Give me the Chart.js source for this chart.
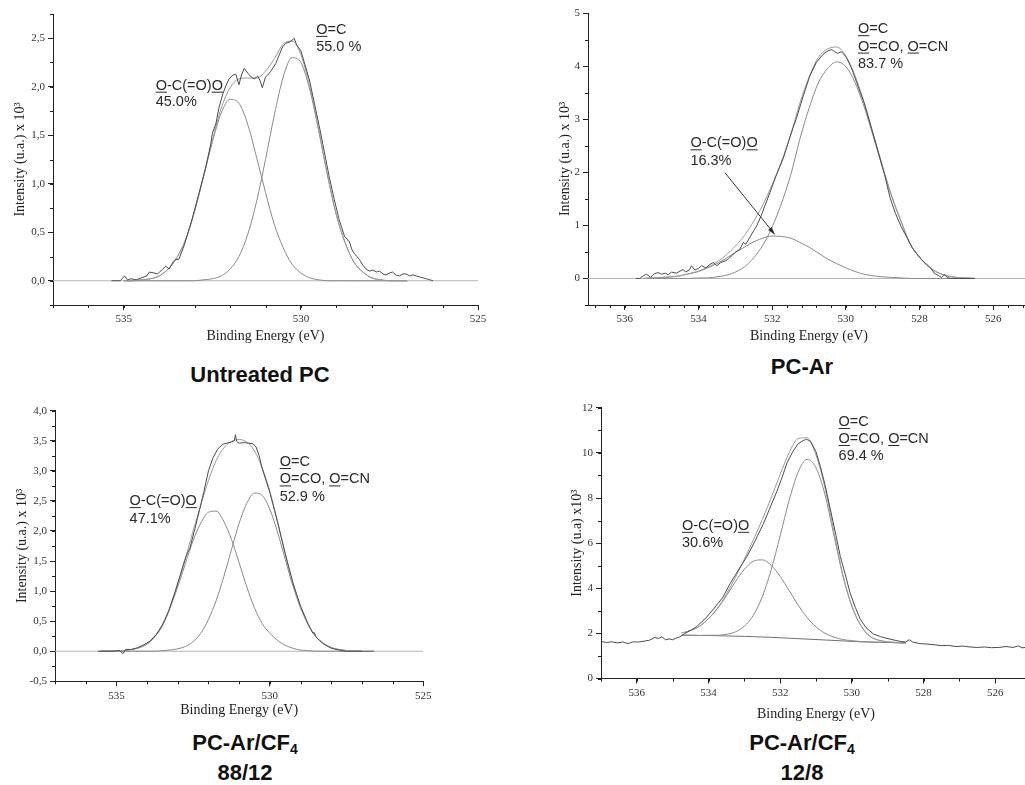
<!DOCTYPE html>
<html>
<head>
<meta charset="utf-8">
<script src="https://cdn.jsdelivr.net/npm/chart.js@4.4.1/dist/chart.umd.min.js"></script>
<style>
  html, body { margin: 0; padding: 0; overflow: hidden; background: #fff; }
  body { width: 1025px; height: 785px; position: relative; }
  canvas.panel { position: absolute; }
  .caption {
    position: absolute; width: 300px; text-align: center;
    font-family: "Liberation Sans", Arial, sans-serif; font-weight: bold;
    font-size: 22px; line-height: 30px; color: #111;
  }
  .caption sub { font-size: 14px; line-height: 0; vertical-align: -4px; }
</style>
</head>
<body>
<canvas id="p1" class="panel" width="500" height="345" style="left:0;top:0"></canvas>
<canvas id="p2" class="panel" width="545" height="345" style="left:500px;top:0"></canvas>
<canvas id="p3" class="panel" width="450" height="324" style="left:0;top:395px"></canvas>
<canvas id="p4" class="panel" width="545" height="328" style="left:500px;top:395px"></canvas>

<div class="caption" style="left:110px;top:360px">Untreated PC</div>
<div class="caption" style="left:652px;top:352px">PC-Ar</div>
<div class="caption" style="left:95px;top:728px">PC-Ar/CF<sub>4</sub><br>88/12</div>
<div class="caption" style="left:652px;top:728px">PC-Ar/CF<sub>4</sub><br>12/8</div>

<script>
// ---------- data (binding energy in eV, intensity x 10^3) ----------

// Untreated PC
const p1Energy = [535.0, 534.75, 534.5, 534.25, 534.0, 533.75, 533.5, 533.25, 533.0, 532.75, 532.5, 532.25, 532.0, 531.75, 531.5, 531.25, 531.0, 530.75, 530.5, 530.25, 530.0, 529.75, 529.5, 529.25, 529.0, 528.75, 528.5, 528.25, 528.0, 527.75, 527.5, 527.25, 527.0];
const p1PeakCarbonate = [0, 0, 0.01, 0.02, 0.05, 0.12, 0.24, 0.43, 0.72, 1.07, 1.43, 1.73, 1.87, 1.83, 1.61, 1.27, 0.91, 0.58, 0.34, 0.17, 0.08, 0.03, 0.01, 0, 0, 0, 0, 0, 0, 0, 0, 0, 0];
const p1PeakCarbonyl = [0, 0, 0, 0, 0, 0, 0, 0, 0, 0.01, 0.02, 0.05, 0.12, 0.25, 0.48, 0.82, 1.25, 1.71, 2.10, 2.30, 2.25, 1.97, 1.55, 1.09, 0.68, 0.39, 0.19, 0.09, 0.03, 0.01, 0, 0, 0];
const p1Fit = [0, 0, 0.01, 0.02, 0.05, 0.12, 0.24, 0.43, 0.72, 1.08, 1.45, 1.78, 1.99, 2.08, 2.09, 2.09, 2.16, 2.29, 2.44, 2.47, 2.33, 2.00, 1.56, 1.09, 0.68, 0.39, 0.19, 0.09, 0.03, 0.01, 0, 0, 0];
const p1Raw = [[535.35, 0], [535.1, 0], [534.98, 0.05], [534.9, 0.01], [534.8, 0.02], [534.65, 0.01], [534.5, 0.03], [534.35, 0.05], [534.28, 0.09], [534.15, 0.08], [534.05, 0.07], [533.9, 0.12], [533.82, 0.15], [533.72, 0.12], [533.6, 0.2], [533.54, 0.22], [533.45, 0.22], [533.3, 0.36], [533.1, 0.6], [532.88, 0.9], [532.7, 1.15], [532.55, 1.4], [532.5, 1.52], [532.4, 1.62], [532.31, 1.79], [532.2, 1.93], [532.12, 2.01], [532.03, 2.08], [531.92, 2.12], [531.84, 2.13], [531.75, 2.02], [531.68, 2.12], [531.6, 2.19], [531.5, 2.14], [531.4, 2.1], [531.32, 2.08], [531.22, 2.11], [531.15, 2.06], [531.09, 1.99], [531.0, 2.1], [530.94, 2.12], [530.85, 2.16], [530.71, 2.24], [530.6, 2.34], [530.52, 2.41], [530.42, 2.45], [530.33, 2.46], [530.25, 2.48], [530.19, 2.5], [530.12, 2.43], [530.0, 2.37], [529.88, 2.22], [529.76, 2.07], [529.62, 1.83], [529.48, 1.59], [529.34, 1.33], [529.2, 1.07], [529.06, 0.84], [528.92, 0.63], [528.85, 0.55], [528.77, 0.46], [528.7, 0.43], [528.63, 0.4], [528.56, 0.32], [528.49, 0.28], [528.42, 0.25], [528.35, 0.22], [528.25, 0.16], [528.16, 0.12], [528.06, 0.1], [527.97, 0.11], [527.87, 0.09], [527.78, 0.1], [527.68, 0.07], [527.6, 0.06], [527.5, 0.08], [527.41, 0.09], [527.32, 0.06], [527.22, 0.05], [527.12, 0.07], [527.03, 0.07], [526.93, 0.05], [526.84, 0.06], [526.74, 0.05], [526.65, 0.04], [526.55, 0.03], [526.46, 0.02], [526.36, 0.01], [526.27, 0]];

// PC-Ar
const p2Energy = [535.5, 535.25, 535.0, 534.75, 534.5, 534.25, 534.0, 533.75, 533.5, 533.25, 533.0, 532.75, 532.5, 532.25, 532.0, 531.75, 531.5, 531.25, 531.0, 530.75, 530.5, 530.25, 530.0, 529.75, 529.5, 529.25, 529.0, 528.75, 528.5, 528.25, 528.0, 527.75, 527.5, 527.25, 527.0, 526.75, 526.5];
const p2PeakCarbonate = [0, 0.01, 0.02, 0.03, 0.05, 0.09, 0.13, 0.20, 0.28, 0.38, 0.49, 0.59, 0.69, 0.76, 0.80, 0.79, 0.76, 0.68, 0.59, 0.48, 0.37, 0.28, 0.20, 0.13, 0.08, 0.05, 0.03, 0.02, 0.01, 0, 0, 0, 0, 0, 0, 0, 0];
const p2PeakCarbonyl = [0, 0, 0, 0, 0, 0, 0.01, 0.01, 0.03, 0.06, 0.12, 0.22, 0.39, 0.63, 0.97, 1.41, 1.94, 2.62, 3.20, 3.68, 3.95, 4.08, 3.99, 3.69, 3.23, 2.66, 2.08, 1.53, 1.07, 0.65, 0.40, 0.22, 0.11, 0.05, 0.02, 0.01, 0];
const p2Fit = [0, 0.01, 0.02, 0.03, 0.05, 0.09, 0.14, 0.21, 0.31, 0.44, 0.61, 0.81, 1.08, 1.39, 1.77, 2.20, 2.70, 3.30, 3.79, 4.16, 4.32, 4.36, 4.19, 3.82, 3.31, 2.71, 2.11, 1.55, 1.08, 0.65, 0.40, 0.22, 0.11, 0.05, 0.02, 0.01, 0];
const p2Raw = [[535.7, 0], [535.6, 0], [535.5, 0.05], [535.41, 0.08], [535.3, 0.02], [535.2, 0.09], [535.1, 0.11], [535.0, 0.08], [534.9, 0.1], [534.82, 0.07], [534.73, 0.12], [534.6, 0.1], [534.5, 0.14], [534.42, 0.17], [534.35, 0.12], [534.25, 0.16], [534.19, 0.24], [534.1, 0.16], [534.0, 0.19], [533.92, 0.24], [533.8, 0.2], [533.7, 0.26], [533.6, 0.3], [533.5, 0.24], [533.4, 0.3], [533.28, 0.33], [533.2, 0.36], [533.1, 0.43], [532.95, 0.52], [532.88, 0.55], [532.78, 0.68], [532.72, 0.64], [532.6, 0.78], [532.5, 0.9], [532.42, 0.99], [532.3, 1.18], [532.18, 1.4], [532.06, 1.62], [531.9, 1.92], [531.7, 2.26], [531.5, 2.7], [531.34, 3.02], [531.15, 3.45], [530.98, 3.81], [530.8, 4.07], [530.62, 4.22], [530.48, 4.29], [530.38, 4.31], [530.3, 4.27], [530.22, 4.24], [530.12, 4.27], [530.0, 4.18], [529.85, 3.97], [529.7, 3.68], [529.5, 3.3], [529.3, 2.82], [529.1, 2.33], [528.95, 1.96], [528.8, 1.52], [528.65, 1.22], [528.5, 0.98], [528.35, 0.78], [528.2, 0.58], [528.08, 0.47], [527.95, 0.36], [527.81, 0.27], [527.7, 0.2], [527.6, 0.1], [527.5, 0.06], [527.4, 0.02], [527.32, 0.08], [527.25, 0.02], [527.15, 0], [526.5, 0]];

// PC-Ar/CF4 88/12
const p3Energy = [535.5, 535.25, 535.0, 534.75, 534.5, 534.25, 534.0, 533.75, 533.5, 533.25, 533.0, 532.75, 532.5, 532.25, 532.0, 531.75, 531.5, 531.25, 531.0, 530.75, 530.5, 530.25, 530.0, 529.75, 529.5, 529.25, 529.0, 528.75, 528.5, 528.25, 528.0, 527.75, 527.5, 527.25, 527.0];
const p3PeakCarbonate = [0, 0, 0, 0.01, 0.03, 0.06, 0.12, 0.24, 0.42, 0.72, 1.07, 1.46, 1.84, 2.13, 2.31, 2.33, 2.16, 1.86, 1.47, 1.07, 0.72, 0.46, 0.30, 0.18, 0.10, 0.05, 0.02, 0.01, 0, 0, 0, 0, 0, 0, 0];
const p3PeakCarbonyl = [0, 0, 0, 0, 0, 0, 0, 0, 0.01, 0.02, 0.04, 0.08, 0.16, 0.30, 0.53, 0.84, 1.24, 1.69, 2.13, 2.46, 2.63, 2.59, 2.36, 1.98, 1.53, 1.09, 0.72, 0.44, 0.24, 0.13, 0.06, 0.03, 0.01, 0, 0];
const p3Fit = [0, 0, 0, 0.01, 0.03, 0.06, 0.12, 0.24, 0.43, 0.74, 1.11, 1.54, 2.00, 2.43, 2.84, 3.17, 3.38, 3.49, 3.52, 3.48, 3.33, 3.05, 2.66, 2.16, 1.63, 1.14, 0.74, 0.45, 0.24, 0.13, 0.06, 0.03, 0.01, 0, 0];
const p3Raw = [[535.6, 0], [535.2, 0], [534.9, 0.01], [534.78, -0.04], [534.7, 0.03], [534.5, 0.03], [534.3, 0.06], [534.1, 0.11], [533.9, 0.17], [533.7, 0.28], [533.5, 0.44], [533.3, 0.66], [533.1, 0.97], [532.9, 1.3], [532.75, 1.55], [532.68, 1.64], [532.6, 1.72], [532.45, 2.02], [532.3, 2.33], [532.15, 2.65], [532.0, 3.0], [531.85, 3.22], [531.7, 3.36], [531.55, 3.44], [531.4, 3.46], [531.25, 3.48], [531.16, 3.5], [531.12, 3.6], [531.08, 3.49], [531.0, 3.46], [530.85, 3.47], [530.7, 3.46], [530.55, 3.45], [530.45, 3.4], [530.35, 3.25], [530.25, 3.04], [530.0, 2.64], [529.75, 2.15], [529.5, 1.62], [529.25, 1.14], [529.0, 0.75], [528.75, 0.45], [528.6, 0.3], [528.55, 0.31], [528.5, 0.24], [528.25, 0.12], [528.0, 0.05], [527.75, 0.02], [527.5, 0], [526.6, 0]];

// PC-Ar/CF4 12/8 (curves include the background)
const p4Energy = [534.75, 534.5, 534.25, 534.0, 533.75, 533.5, 533.25, 533.0, 532.75, 532.5, 532.25, 532.0, 531.75, 531.5, 531.25, 531.0, 530.75, 530.5, 530.25, 530.0, 529.75, 529.5, 529.25, 529.0, 528.75, 528.5];
const p4Background = [1.92, 1.92, 1.91, 1.91, 1.90, 1.89, 1.88, 1.87, 1.86, 1.84, 1.83, 1.81, 1.79, 1.77, 1.75, 1.73, 1.71, 1.69, 1.67, 1.65, 1.63, 1.62, 1.61, 1.60, 1.59, 1.58];
const p4PeakCarbonate = [2.02, 2.13, 2.32, 2.65, 3.10, 3.67, 4.29, 4.84, 5.20, 5.26, 5.02, 4.53, 3.90, 3.26, 2.71, 2.29, 2.01, 1.84, 1.73, 1.68, 1.64, 1.62, 1.61, 1.60, 1.59, 1.58];
const p4PeakCarbonyl = [1.92, 1.92, 1.91, 1.92, 1.92, 1.96, 2.07, 2.32, 2.80, 3.62, 4.82, 6.33, 7.89, 9.14, 9.71, 9.34, 8.15, 6.35, 4.55, 3.20, 2.35, 1.88, 1.70, 1.63, 1.60, 1.58];
const p4Fit = [2.02, 2.13, 2.32, 2.66, 3.12, 3.74, 4.48, 5.29, 6.14, 7.04, 8.01, 9.05, 10.00, 10.63, 10.67, 9.90, 8.45, 6.50, 4.60, 3.23, 2.36, 1.88, 1.70, 1.63, 1.60, 1.58];
const p4Raw = [[537.0, 1.65], [536.85, 1.6], [536.7, 1.63], [536.55, 1.58], [536.4, 1.62], [536.25, 1.55], [536.1, 1.63], [535.95, 1.62], [535.8, 1.66], [535.65, 1.7], [535.5, 1.82], [535.4, 1.78], [535.3, 1.85], [535.2, 1.72], [535.1, 1.76], [535.0, 1.72], [534.9, 1.8], [534.8, 1.85], [534.7, 1.95], [534.6, 2.05], [534.45, 2.18], [534.33, 2.31], [534.1, 2.64], [533.86, 3.08], [533.6, 3.6], [533.4, 4.2], [533.15, 4.85], [532.93, 5.4], [532.7, 6.1], [532.47, 6.85], [532.3, 7.5], [532.09, 8.3], [531.95, 8.9], [531.81, 9.55], [531.65, 10.05], [531.5, 10.4], [531.35, 10.55], [531.26, 10.6], [531.15, 10.5], [531.0, 10.05], [530.88, 9.4], [530.75, 8.6], [530.6, 7.5], [530.45, 6.4], [530.32, 5.4], [530.18, 4.6], [530.05, 3.8], [529.9, 3.15], [529.77, 2.65], [529.6, 2.25], [529.4, 1.98], [529.2, 1.86], [529.02, 1.78], [528.8, 1.7], [528.65, 1.65], [528.5, 1.62], [528.4, 1.72], [528.3, 1.62], [528.1, 1.55], [527.9, 1.53], [527.7, 1.5], [527.5, 1.46], [527.3, 1.47], [527.1, 1.42], [526.9, 1.44], [526.7, 1.4], [526.5, 1.38], [526.3, 1.4], [526.1, 1.37], [525.9, 1.38], [525.7, 1.42], [525.5, 1.38], [525.35, 1.45], [525.25, 1.36], [525.1, 1.4], [525.0, 1.39]];

// axis ticks
const p1TicksX = [535, 530, 525];
const p1TicksY = [0, 0.5, 1, 1.5, 2, 2.5];
const p2TicksX = [536, 534, 532, 530, 528, 526];
const p2TicksY = [0, 1, 2, 3, 4, 5];
const p3TicksX = [535, 530, 525];
const p3TicksY = [-0.5, 0, 0.5, 1, 1.5, 2, 2.5, 3, 3.5, 4];
const p4TicksX = [536, 534, 532, 530, 528, 526];
const p4TicksY = [0, 2, 4, 6, 8, 10, 12];

// ---------- drawing ----------
Chart.defaults.font.family = '"Liberation Serif", "Times New Roman", serif';
Chart.defaults.color = '#333';

const RAW = '#4d4d4d';
const FIT = '#9a9a9a';
const PEAK = '#8a8a8a';
const ZERO = '#b4b4b4';

function drawRich(ctx, text, x, y) {
    // parts in [brackets] are underlined
    const parts = text.split(/(\[[^\]]*\])/).filter(Boolean);
    let cx = x;
    parts.forEach(p => {
        const under = p.startsWith('[');
        const s = under ? p.slice(1, -1) : p;
        ctx.fillText(s, cx, y);
        const w = ctx.measureText(s).width;
        if (under) ctx.fillRect(cx, y + 2, w, 1);
        cx += w;
    });
}

const panelNotes = {
    id: 'panelNotes',
    afterDatasetsDraw(chart, args, opts) {
        const ctx = chart.ctx;
        const xs = chart.scales.x, ys = chart.scales.y;
        ctx.save();
        ctx.font = '14.5px "Liberation Sans", Arial, sans-serif';
        ctx.fillStyle = '#2b2b2b';
        ctx.textBaseline = 'alphabetic';
        (opts.labels || []).forEach(lab => {
            const x0 = xs.getPixelForValue(lab.x);
            const y0 = ys.getPixelForValue(lab.y);
            lab.lines.forEach((line, i) => drawRich(ctx, line, x0, y0 + i * opts.lineGap));
        });
        (opts.arrows || []).forEach(a => {
            const x1 = xs.getPixelForValue(a.from[0]), y1 = ys.getPixelForValue(a.from[1]);
            const x2 = xs.getPixelForValue(a.to[0]), y2 = ys.getPixelForValue(a.to[1]);
            const ang = Math.atan2(y2 - y1, x2 - x1);
            ctx.strokeStyle = '#333';
            ctx.lineWidth = 1;
            ctx.beginPath();
            ctx.moveTo(x1, y1);
            ctx.lineTo(x2, y2);
            ctx.stroke();
            ctx.beginPath();
            ctx.moveTo(x2, y2);
            ctx.lineTo(x2 - 8 * Math.cos(ang - 0.3), y2 - 8 * Math.sin(ang - 0.3));
            ctx.lineTo(x2 - 8 * Math.cos(ang + 0.3), y2 - 8 * Math.sin(ang + 0.3));
            ctx.closePath();
            ctx.fill();
        });
        ctx.restore();
    }
};

const minorTicks = {
    id: 'minorTicks',
    afterDraw(chart, args, opts) {
        const ctx = chart.ctx;
        const {left, bottom} = chart.chartArea;
        const xs = chart.scales.x, ys = chart.scales.y;
        ctx.save();
        ctx.strokeStyle = '#222';
        ctx.lineWidth = 1;
        ctx.beginPath();
        const kx0 = Math.ceil((xs.min - opts.xAnchor) / opts.xStep - 1e-6);
        const kx1 = Math.floor((xs.max - opts.xAnchor) / opts.xStep + 1e-6);
        for (let k = kx0; k <= kx1; k++) {
            const v = opts.xAnchor + k * opts.xStep;
            const px = Math.round(xs.getPixelForValue(v)) + 0.5;
            ctx.moveTo(px, bottom);
            ctx.lineTo(px, bottom + 3);
        }
        const ky0 = Math.ceil((ys.min - opts.yAnchor) / opts.yStep - 1e-6);
        const ky1 = Math.floor((ys.max - opts.yAnchor) / opts.yStep + 1e-6);
        for (let k = ky0; k <= ky1; k++) {
            const v = opts.yAnchor + k * opts.yStep;
            const py = Math.round(ys.getPixelForValue(v)) + 0.5;
            ctx.moveTo(left - 3, py);
            ctx.lineTo(left, py);
        }
        ctx.stroke();
        ctx.restore();
    }
};

function curve(energy, values, color) {
    return {
        data: energy.map((x, i) => ({x: x, y: values[i]})),
        showLine: true, borderColor: color, borderWidth: 1,
        pointRadius: 0, cubicInterpolationMode: 'monotone', fill: false
    };
}

function trace(pairs, color) {
    return {
        data: pairs.map(p => ({x: p[0], y: p[1]})),
        showLine: true, borderColor: color, borderWidth: 1,
        pointRadius: 0, tension: 0, fill: false
    };
}

function zeroLine(x0, x1) {
    return trace([[x0, 0], [x1, 0]], ZERO);
}

function buildPanel(id, o) {
    return new Chart(document.getElementById(id), {
        type: 'scatter',
        data: { datasets: o.datasets },
        options: {
            responsive: false,
            animation: false,
            devicePixelRatio: 1,
            layout: { padding: o.padding },
            plugins: {
                legend: { display: false },
                tooltip: { enabled: false },
                minorTicks: o.minor,
                panelNotes: o.notes
            },
            scales: {
                x: {
                    type: 'linear', reverse: true, min: o.xMin, max: o.xMax,
                    afterBuildTicks: s => { s.ticks = o.xTicks.map(v => ({value: v})); },
                    afterFit: s => { s.height = o.xHeight; },
                    ticks: { font: { size: 11 }, color: '#333', padding: 3, maxRotation: 0, autoSkip: false,
                             callback: v => String(v) },
                    grid: { drawOnChartArea: false, tickLength: 5, color: '#222' },
                    border: { color: '#222', width: 1 },
                    title: { display: true, text: 'Binding Energy (eV)', font: { size: 14 }, color: '#222', padding: 0 }
                },
                y: {
                    type: 'linear', min: o.yMin, max: o.yMax,
                    afterBuildTicks: s => { s.ticks = o.yTicks.map(v => ({value: v})); },
                    afterFit: s => { s.width = o.yWidth; },
                    ticks: { font: { size: 11 }, color: '#333', padding: 3, autoSkip: false,
                             callback: o.yFormat },
                    grid: { drawOnChartArea: false, tickLength: 5, color: '#222' },
                    border: { color: '#222', width: 1 },
                    title: { display: true, text: o.yTitle, font: { size: 14 }, color: '#222', padding: 0 }
                }
            }
        },
        plugins: [minorTicks, panelNotes]
    });
}

const commaFormat = v => v.toFixed(1).replace('.', ',');
const intFormat = v => String(v);

buildPanel('p1', {
    xMin: 525, xMax: 537, yMin: -0.25, yMax: 2.75,
    xTicks: p1TicksX, yTicks: p1TicksY, yFormat: commaFormat,
    yTitle: 'Intensity (u.a.) x 10\u00b3',
    padding: { left: 11.6, top: 14, right: 22, bottom: 0 }, yWidth: 41.4, xHeight: 40,
    minor: { xStep: 1, xAnchor: 530, yStep: 0.25, yAnchor: 0 },
    notes: {
        lineGap: 16.8,
        labels: [
            { x: 529.57, y: 2.545, lines: ['[O]=C', '55.0 %'] },
            { x: 534.1, y: 1.97, lines: ['[O]-C(=O)[O]', '45.0%'] }
        ]
    },
    datasets: [
        trace(p1Raw, RAW),
        curve(p1Energy, p1Fit, FIT),
        curve(p1Energy, p1PeakCarbonyl, PEAK),
        curve(p1Energy, p1PeakCarbonate, PEAK),
        zeroLine(537, 525)
    ]
});

buildPanel('p2', {
    xMin: 525, xMax: 537, yMin: -0.5, yMax: 5,
    xTicks: p2TicksX, yTicks: p2TicksY, yFormat: intFormat,
    yTitle: 'Intensity (u.a.) x 10\u00b3',
    padding: { left: 56.6, top: 13, right: 15, bottom: 0 }, yWidth: 31.4, xHeight: 40,
    minor: { xStep: 0.4, xAnchor: 536, yStep: 0.5, yAnchor: 0 },
    notes: {
        lineGap: 17.4,
        labels: [
            { x: 529.67, y: 4.62, lines: ['[O]=C', '[O]=CO, [O]=CN', '83.7 %'] },
            { x: 534.22, y: 2.47, lines: ['[O]-C(=O)[O]', '16.3%'] }
        ],
        arrows: [ { from: [533.28, 1.99], to: [531.93, 0.83] } ]
    },
    datasets: [
        trace(p2Raw, RAW),
        curve(p2Energy, p2Fit, FIT),
        curve(p2Energy, p2PeakCarbonyl, PEAK),
        curve(p2Energy, p2PeakCarbonate, PEAK),
        zeroLine(537, 525)
    ]
});

buildPanel('p3', {
    xMin: 525, xMax: 537, yMin: -0.5, yMax: 4,
    xTicks: p3TicksX, yTicks: p3TicksY, yFormat: commaFormat,
    yTitle: 'Intensity (u.a.) x 10\u00b3',
    padding: { left: 13.6, top: 15.7, right: 26.7, bottom: 0 }, yWidth: 41.4, xHeight: 37.7,
    minor: { xStep: 1, xAnchor: 530, yStep: 0.25, yAnchor: 0 },
    notes: {
        lineGap: 17.4,
        labels: [
            { x: 529.68, y: 3.08, lines: ['[O]=C', '[O]=CO, [O]=CN', '52.9 %'] },
            { x: 534.57, y: 2.43, lines: ['[O]-C(=O)[O]', '47.1%'] }
        ]
    },
    datasets: [
        trace(p3Raw, RAW),
        curve(p3Energy, p3Fit, FIT),
        curve(p3Energy, p3PeakCarbonyl, PEAK),
        curve(p3Energy, p3PeakCarbonate, PEAK),
        zeroLine(537, 525)
    ]
});

buildPanel('p4', {
    xMin: 525, xMax: 537, yMin: 0, yMax: 12,
    xTicks: p4TicksX, yTicks: p4TicksY, yFormat: intFormat,
    yTitle: 'Intensity (u.a) x10\u00b3',
    padding: { left: 68.6, top: 12.7, right: 14, bottom: 0 }, yWidth: 32.4, xHeight: 44.4,
    minor: { xStep: 1, xAnchor: 530, yStep: 1, yAnchor: 0 },
    notes: {
        lineGap: 17,
        labels: [
            { x: 530.37, y: 11.19, lines: ['[O]=C', '[O]=CO, [O]=CN', '69.4 %'] },
            { x: 534.74, y: 6.59, lines: ['[O]-C(=O)[O]', '30.6%'] }
        ]
    },
    datasets: [
        trace(p4Raw, RAW),
        curve(p4Energy, p4Fit, FIT),
        curve(p4Energy, p4PeakCarbonyl, PEAK),
        curve(p4Energy, p4PeakCarbonate, PEAK),
        curve(p4Energy, p4Background, '#6f6f6f')
    ]
});
</script>
</body>
</html>
